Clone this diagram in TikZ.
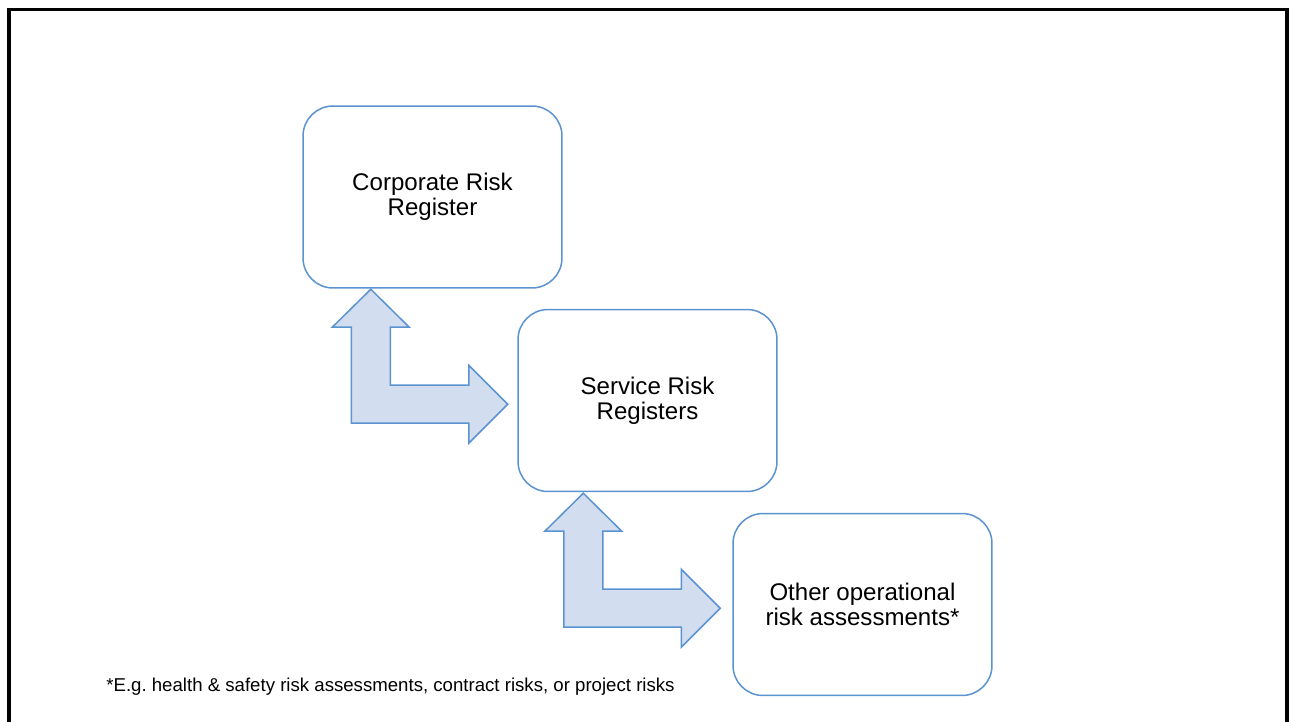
\documentclass[tikz,border=0pt]{standalone}
\usepackage{fontspec}
\setmainfont{Liberation Sans}
\definecolor{viền}{HTML}{5A93CF}
\definecolor{nền}{HTML}{D2DEEF}
\begin{document}
\begin{tikzpicture}[x=.02cm,y=-.02cm,
            hop/.style={draw=viền,line width=.03cm,rounded corners=.6cm,
                minimum width=5.18cm,minimum height=3.64cm,align=center,
                font=\fontsize{13.7}{14.2}\selectfont},
            muiten/.pic={\draw[draw=viền,fill=nền,line width=.03cm,line join=miter]
                (0,0)--(38.5,38)--(19.5,38)--(19.5,96)--(98,96)--(98,76)
                --(137,115)--(98,154)--(98,134)--(-19.5,134)--(-19.5,38)
                --(-38.5,38)--cycle;}]
            \useasboundingbox (0,0) rectangle (1293,722);
            % khung ngoài, cạnh dưới nằm ngoài trang
            \draw[line width=.07cm] (9,722) |- (1287,9.5) -- (1287,722);
            \path
            (432.5,197) node[hop] (crr) {Corporate Risk\\Register} % <<< ô 1
            (647.5,400.5) node[hop] (srr) {Service Risk\\Registers} % <<< ô 2
            (862.5,604.5) node[hop] (ora) {Other operational\\risk assessments*}; % <<< ô 3
            \path (crr.south west) ++(68.5,.5) pic{muiten};
            \path (srr.south west) ++(66,1) pic{muiten};
            \node[anchor=base west,inner sep=0,font=\fontsize{10.6}{12}\selectfont]
                (ghichu) at (106,691)
                {*E.g.\ health \& safety risk assessments, contract risks, or project risks};
        \end{tikzpicture}
\end{document}
